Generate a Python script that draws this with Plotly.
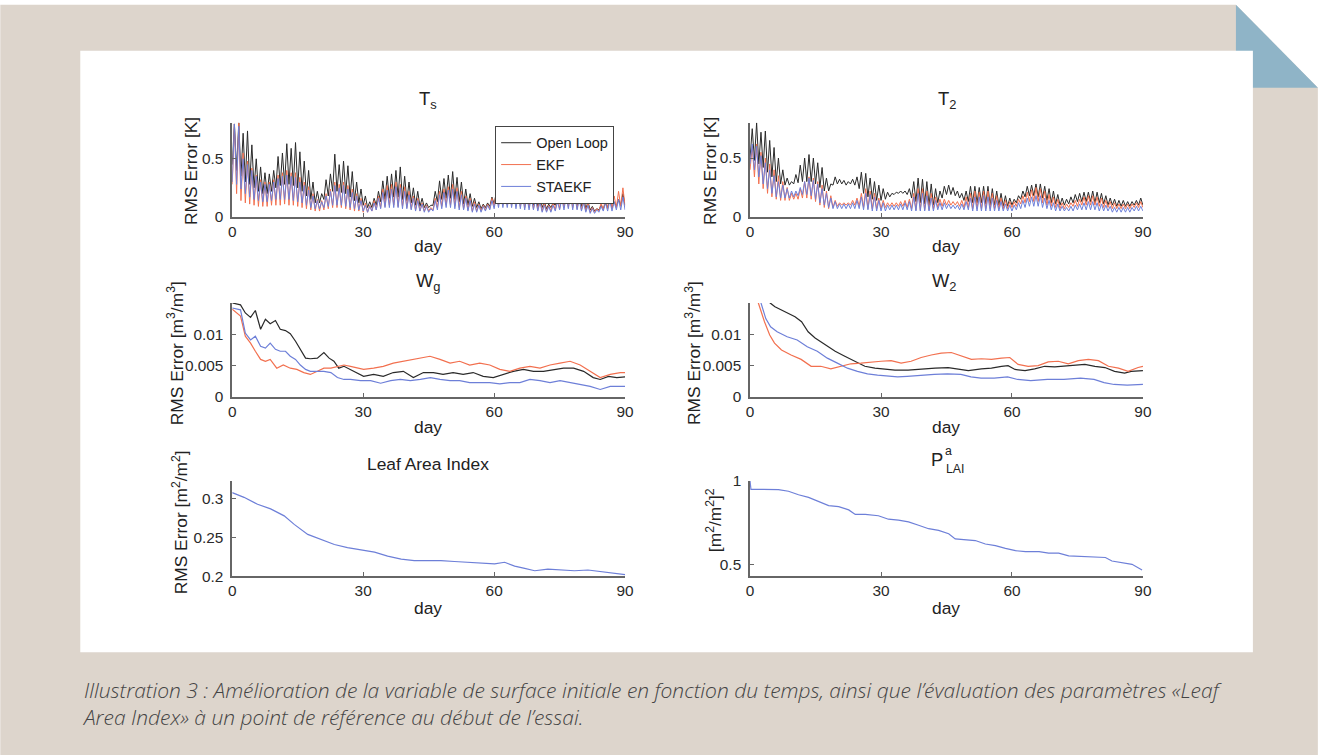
import plotly.graph_objects as go

# The photographed page shows the figure origin at about (3.7, 8.3) px with a slight
# shrink (0.9906 x, 0.977 y); layout positions below are given in reference-picture pixels
# and converted through that measured mapping.
OX, OY = 3.7, 8.3
SX, SY = 0.9906, 0.977
W, H = 1338, 766

# ---------------- data ----------------
DAYS = list(range(90))

# Ts : daily peak / trough RMS error [K]
OL_TS_PEAK = [0.80, 0.81, 0.72, 0.74, 0.62, 0.50, 0.43, 0.38, 0.37, 0.40,
              0.52, 0.55, 0.63, 0.59, 0.64, 0.56, 0.48, 0.40, 0.30, 0.22,
              0.20, 0.32, 0.37, 0.54, 0.45, 0.48, 0.44, 0.39, 0.30, 0.24,
              0.18, 0.13, 0.16, 0.22, 0.31, 0.35, 0.37, 0.40, 0.43, 0.35,
              0.30, 0.25, 0.22, 0.16, 0.12, 0.10, 0.22, 0.31, 0.33, 0.36,
              0.39, 0.34, 0.30, 0.24, 0.20, 0.16, 0.13, 0.11, 0.12, 0.17,
              0.21, 0.26, 0.28, 0.27, 0.30, 0.27, 0.25, 0.23, 0.22, 0.20,
              0.17, 0.13, 0.11, 0.12, 0.18, 0.22, 0.24, 0.26, 0.24, 0.20,
              0.17, 0.13, 0.09, 0.07, 0.10, 0.12, 0.15, 0.13, 0.15, 0.20]
OL_TS_TROUGH = [0.45, 0.40, 0.35, 0.30, 0.28, 0.25, 0.22, 0.20, 0.20, 0.22,
                0.25, 0.27, 0.28, 0.28, 0.27, 0.25, 0.22, 0.18, 0.15, 0.12,
                0.12, 0.15, 0.18, 0.22, 0.22, 0.21, 0.20, 0.17, 0.14, 0.12,
                0.10, 0.08, 0.08, 0.10, 0.13, 0.15, 0.16, 0.17, 0.17, 0.15,
                0.14, 0.12, 0.10, 0.09, 0.08, 0.08, 0.10, 0.13, 0.15, 0.16,
                0.16, 0.15, 0.13, 0.11, 0.10, 0.09, 0.08, 0.07, 0.08, 0.09,
                0.11, 0.13, 0.14, 0.14, 0.14, 0.13, 0.12, 0.11, 0.10, 0.10,
                0.09, 0.08, 0.07, 0.08, 0.10, 0.11, 0.12, 0.12, 0.11, 0.10,
                0.09, 0.07, 0.06, 0.05, 0.06, 0.07, 0.08, 0.08, 0.09, 0.10]
EKF_TS_PEAK = [0.80, 0.81, 0.55, 0.48, 0.42, 0.36, 0.32, 0.30, 0.30, 0.32,
               0.36, 0.38, 0.40, 0.38, 0.38, 0.34, 0.30, 0.26, 0.20, 0.15,
               0.14, 0.20, 0.24, 0.30, 0.28, 0.30, 0.27, 0.24, 0.20, 0.16,
               0.12, 0.10, 0.14, 0.18, 0.24, 0.27, 0.28, 0.30, 0.28, 0.26,
               0.22, 0.18, 0.16, 0.12, 0.10, 0.08, 0.16, 0.22, 0.24, 0.26,
               0.28, 0.25, 0.22, 0.18, 0.16, 0.13, 0.11, 0.10, 0.11, 0.16,
               0.22, 0.24, 0.25, 0.24, 0.25, 0.24, 0.22, 0.21, 0.20, 0.18,
               0.15, 0.12, 0.10, 0.12, 0.16, 0.20, 0.22, 0.23, 0.22, 0.18,
               0.15, 0.12, 0.08, 0.07, 0.12, 0.16, 0.20, 0.18, 0.22, 0.25]
EKF_TS_TROUGH = [0.28, 0.20, 0.14, 0.12, 0.11, 0.10, 0.09, 0.09, 0.09, 0.10,
                 0.10, 0.10, 0.11, 0.10, 0.10, 0.09, 0.08, 0.07, 0.06, 0.05,
                 0.05, 0.06, 0.07, 0.08, 0.08, 0.08, 0.07, 0.06, 0.05, 0.05,
                 0.04, 0.04, 0.05, 0.06, 0.08, 0.09, 0.10, 0.10, 0.09, 0.09,
                 0.08, 0.07, 0.06, 0.05, 0.05, 0.05, 0.06, 0.08, 0.09, 0.10,
                 0.10, 0.09, 0.08, 0.07, 0.06, 0.05, 0.05, 0.05, 0.06, 0.07,
                 0.09, 0.10, 0.10, 0.10, 0.10, 0.09, 0.09, 0.08, 0.08, 0.07,
                 0.06, 0.05, 0.05, 0.05, 0.06, 0.07, 0.08, 0.08, 0.08, 0.07,
                 0.06, 0.05, 0.04, 0.04, 0.05, 0.06, 0.07, 0.07, 0.08, 0.09]
STA_TS_PEAK = [0.80, 0.78, 0.50, 0.45, 0.40, 0.35, 0.30, 0.28, 0.28, 0.30,
               0.33, 0.35, 0.36, 0.35, 0.34, 0.30, 0.27, 0.23, 0.18, 0.14,
               0.13, 0.18, 0.22, 0.27, 0.25, 0.27, 0.24, 0.21, 0.18, 0.14,
               0.10, 0.09, 0.12, 0.16, 0.21, 0.23, 0.24, 0.26, 0.25, 0.22,
               0.19, 0.16, 0.14, 0.11, 0.09, 0.07, 0.14, 0.19, 0.21, 0.23,
               0.24, 0.22, 0.19, 0.16, 0.14, 0.11, 0.10, 0.09, 0.10, 0.14,
               0.18, 0.20, 0.21, 0.20, 0.21, 0.20, 0.19, 0.18, 0.17, 0.15,
               0.13, 0.10, 0.09, 0.10, 0.13, 0.16, 0.18, 0.19, 0.18, 0.15,
               0.12, 0.10, 0.07, 0.06, 0.09, 0.12, 0.14, 0.13, 0.15, 0.17]
STA_TS_TROUGH = [0.30, 0.28, 0.24, 0.20, 0.17, 0.15, 0.14, 0.13, 0.13, 0.14,
                 0.15, 0.15, 0.15, 0.15, 0.14, 0.13, 0.12, 0.10, 0.08, 0.07,
                 0.07, 0.08, 0.09, 0.10, 0.10, 0.10, 0.09, 0.08, 0.07, 0.06,
                 0.05, 0.04, 0.05, 0.06, 0.07, 0.08, 0.08, 0.08, 0.08, 0.07,
                 0.07, 0.06, 0.05, 0.05, 0.04, 0.04, 0.05, 0.06, 0.07, 0.08,
                 0.08, 0.07, 0.06, 0.06, 0.05, 0.04, 0.04, 0.04, 0.05, 0.06,
                 0.07, 0.08, 0.08, 0.08, 0.08, 0.07, 0.07, 0.06, 0.06, 0.06,
                 0.05, 0.04, 0.04, 0.04, 0.05, 0.06, 0.06, 0.07, 0.06, 0.06,
                 0.05, 0.04, 0.03, 0.03, 0.04, 0.05, 0.05, 0.05, 0.06, 0.06]

# T2 : daily peak / trough RMS error [K]
OL_T2_PEAK = [0.75, 0.80, 0.72, 0.73, 0.65, 0.59, 0.50, 0.40, 0.33, 0.30,
              0.36, 0.44, 0.50, 0.53, 0.50, 0.46, 0.42, 0.33, 0.28, 0.34,
              0.32, 0.31, 0.30, 0.32, 0.34, 0.38, 0.37, 0.33, 0.30, 0.27,
              0.24, 0.21, 0.20, 0.21, 0.22, 0.22, 0.24, 0.30, 0.33, 0.32,
              0.30, 0.28, 0.24, 0.22, 0.26, 0.27, 0.25, 0.22, 0.20, 0.22,
              0.26, 0.26, 0.25, 0.26, 0.26, 0.24, 0.22, 0.20, 0.18, 0.16,
              0.15, 0.18, 0.22, 0.26, 0.27, 0.28, 0.28, 0.26, 0.24, 0.22,
              0.19, 0.16, 0.15, 0.17, 0.19, 0.20, 0.21, 0.21, 0.22, 0.21,
              0.20, 0.18, 0.16, 0.15, 0.14, 0.14, 0.13, 0.13, 0.14, 0.16]
OL_T2_TROUGH = [0.50, 0.48, 0.45, 0.42, 0.38, 0.34, 0.30, 0.28, 0.27, 0.27,
                0.28, 0.29, 0.30, 0.30, 0.30, 0.28, 0.25, 0.22, 0.22, 0.27,
                0.28, 0.28, 0.27, 0.28, 0.27, 0.24, 0.20, 0.17, 0.15, 0.14,
                0.14, 0.15, 0.17, 0.19, 0.20, 0.20, 0.19, 0.16, 0.13, 0.12,
                0.11, 0.10, 0.10, 0.12, 0.16, 0.19, 0.19, 0.18, 0.16, 0.14,
                0.13, 0.12, 0.12, 0.12, 0.11, 0.10, 0.10, 0.10, 0.09, 0.09,
                0.10, 0.12, 0.15, 0.17, 0.18, 0.18, 0.17, 0.16, 0.14, 0.12,
                0.11, 0.10, 0.10, 0.11, 0.12, 0.13, 0.13, 0.13, 0.13, 0.12,
                0.12, 0.11, 0.10, 0.10, 0.09, 0.09, 0.09, 0.09, 0.10, 0.10]
EKF_T2_PEAK = [0.60, 0.62, 0.55, 0.50, 0.45, 0.40, 0.35, 0.30, 0.25, 0.20,
               0.20, 0.24, 0.30, 0.34, 0.33, 0.30, 0.27, 0.22, 0.18, 0.14,
               0.12, 0.12, 0.12, 0.14, 0.16, 0.20, 0.24, 0.22, 0.20, 0.16,
               0.14, 0.12, 0.12, 0.12, 0.13, 0.14, 0.15, 0.20, 0.24, 0.24,
               0.22, 0.20, 0.17, 0.15, 0.15, 0.14, 0.13, 0.13, 0.14, 0.17,
               0.20, 0.22, 0.21, 0.22, 0.22, 0.20, 0.18, 0.16, 0.14, 0.13,
               0.13, 0.15, 0.18, 0.21, 0.23, 0.25, 0.24, 0.22, 0.19, 0.17,
               0.15, 0.12, 0.11, 0.12, 0.14, 0.15, 0.17, 0.18, 0.18, 0.17,
               0.16, 0.14, 0.13, 0.12, 0.11, 0.11, 0.11, 0.11, 0.12, 0.13]
EKF_T2_TROUGH = [0.40, 0.34, 0.28, 0.24, 0.20, 0.17, 0.15, 0.14, 0.14, 0.14,
                 0.15, 0.15, 0.16, 0.16, 0.15, 0.13, 0.10, 0.08, 0.07, 0.08,
                 0.09, 0.10, 0.10, 0.10, 0.10, 0.09, 0.08, 0.07, 0.07, 0.07,
                 0.07, 0.08, 0.09, 0.09, 0.09, 0.09, 0.08, 0.07, 0.06, 0.06,
                 0.06, 0.06, 0.07, 0.08, 0.09, 0.10, 0.10, 0.10, 0.09, 0.08,
                 0.08, 0.07, 0.07, 0.07, 0.07, 0.07, 0.07, 0.07, 0.07, 0.07,
                 0.08, 0.09, 0.11, 0.12, 0.13, 0.13, 0.13, 0.12, 0.10, 0.09,
                 0.08, 0.07, 0.07, 0.08, 0.09, 0.09, 0.10, 0.10, 0.10, 0.10,
                 0.09, 0.08, 0.08, 0.07, 0.07, 0.07, 0.07, 0.07, 0.08, 0.08]
STA_T2_PEAK = [0.62, 0.60, 0.52, 0.46, 0.40, 0.35, 0.30, 0.27, 0.24, 0.22,
               0.22, 0.25, 0.30, 0.33, 0.31, 0.28, 0.24, 0.20, 0.16, 0.13,
               0.11, 0.11, 0.11, 0.12, 0.14, 0.17, 0.20, 0.19, 0.17, 0.14,
               0.12, 0.10, 0.10, 0.10, 0.11, 0.12, 0.13, 0.17, 0.20, 0.20,
               0.18, 0.16, 0.14, 0.12, 0.12, 0.11, 0.10, 0.10, 0.11, 0.13,
               0.16, 0.17, 0.17, 0.18, 0.17, 0.16, 0.14, 0.13, 0.11, 0.10,
               0.10, 0.12, 0.14, 0.16, 0.17, 0.18, 0.18, 0.16, 0.14, 0.12,
               0.11, 0.09, 0.08, 0.09, 0.10, 0.11, 0.12, 0.13, 0.13, 0.12,
               0.11, 0.10, 0.09, 0.08, 0.08, 0.08, 0.08, 0.08, 0.09, 0.09]
STA_T2_TROUGH = [0.45, 0.40, 0.34, 0.28, 0.24, 0.20, 0.17, 0.16, 0.16, 0.16,
                 0.17, 0.18, 0.19, 0.19, 0.18, 0.15, 0.12, 0.10, 0.08, 0.07,
                 0.07, 0.07, 0.07, 0.07, 0.07, 0.07, 0.06, 0.06, 0.05, 0.05,
                 0.05, 0.05, 0.06, 0.06, 0.06, 0.06, 0.06, 0.05, 0.05, 0.05,
                 0.05, 0.05, 0.05, 0.06, 0.06, 0.07, 0.07, 0.07, 0.06, 0.06,
                 0.06, 0.05, 0.05, 0.05, 0.05, 0.05, 0.05, 0.05, 0.05, 0.05,
                 0.05, 0.06, 0.07, 0.08, 0.09, 0.09, 0.09, 0.08, 0.07, 0.06,
                 0.05, 0.05, 0.05, 0.05, 0.05, 0.06, 0.06, 0.06, 0.06, 0.06,
                 0.05, 0.05, 0.05, 0.04, 0.04, 0.04, 0.04, 0.04, 0.05, 0.05]

# Wg : RMS error [m3/m3]
OL_WG_DAY = [0, 1.9, 3, 4.2, 5.3, 6.5, 7.6, 8.7, 9.9, 11, 12.2, 13.3, 14.5, 15.6, 16.8, 17.9, 19.5, 21,
             22.2, 23.3, 24.4, 25.6, 27.1, 28.6, 30.1, 32.4, 34.6, 36.9, 39.2, 41.5, 43.8, 46.1, 48.3,
             50.6, 52.9, 55.2, 57.5, 59.8, 62.1, 64.4, 66.7, 69, 71.3, 73.6, 75.9, 78.2, 80.5, 82.7,
             84.3, 86.2, 88.1, 90]
OL_WG = [0.0150, 0.0147, 0.0134, 0.0127, 0.0138, 0.0108, 0.0124, 0.0117, 0.0122, 0.0108,
         0.0106, 0.0101, 0.0089, 0.0076, 0.0062, 0.0061, 0.0062, 0.0071, 0.0062, 0.0057,
         0.0046, 0.0049, 0.0044, 0.0039, 0.0033, 0.0036, 0.0033, 0.0039, 0.0041, 0.0031,
         0.0039, 0.0039, 0.0036, 0.0039, 0.0036, 0.0039, 0.0033, 0.0031, 0.0036, 0.0041,
         0.0044, 0.0041, 0.0041, 0.0044, 0.0046, 0.0046, 0.0041, 0.0031, 0.0028, 0.0033,
         0.0031, 0.0032]
EKF_WG_DAY = [0, 1.9, 3, 4.2, 5.3, 6.5, 7.6, 8.7, 10.2, 11.7, 13.3, 14.8, 16.4, 17.9, 19.5, 21, 22.6,
              24.1, 25.6, 27.1, 28.6, 30.1, 32.4, 34.6, 36.9, 39.2, 41.5, 43.8, 45.3, 47.6, 49.9,
              52.1, 54.4, 56.7, 59, 61.3, 63.6, 65.9, 68.2, 70.5, 72.8, 75.1, 77.4, 79.7, 82, 84.3,
              86.6, 88.9, 90]
EKF_WG = [0.0140, 0.0129, 0.0097, 0.0086, 0.0073, 0.0060, 0.0057, 0.0060, 0.0046, 0.0051,
          0.0046, 0.0044, 0.0039, 0.0036, 0.0041, 0.0046, 0.0046, 0.0049, 0.0051, 0.0049,
          0.0046, 0.0044, 0.0046, 0.0049, 0.0054, 0.0057, 0.0060, 0.0062, 0.0065, 0.0060,
          0.0054, 0.0057, 0.0051, 0.0054, 0.0051, 0.0044, 0.0041, 0.0046, 0.0049, 0.0046,
          0.0051, 0.0054, 0.0057, 0.0051, 0.0041, 0.0031, 0.0036, 0.0039, 0.0039]
STA_WG_DAY = [0, 1.9, 3, 4.2, 5.3, 6.5, 7.6, 8.7, 9.9, 11, 12.2, 13.3, 14.5, 15.6, 16.8, 17.9, 19.5,
              21, 22.6, 24.1, 25.6, 27.1, 29.4, 31.7, 34, 36.3, 38.5, 40.8, 43.1, 45.4, 47.6, 49.9,
              52.1, 54.4, 56.7, 59, 61.3, 63.6, 65.9, 68.2, 70.5, 72.8, 75.1, 77.4, 79.7, 82, 84.3,
              86.6, 88.9, 90]
STA_WG = [0.0142, 0.0139, 0.0102, 0.0091, 0.0097, 0.0081, 0.0078, 0.0086, 0.0076, 0.0073,
          0.0073, 0.0065, 0.0060, 0.0051, 0.0044, 0.0041, 0.0041, 0.0041, 0.0039, 0.0031,
          0.0028, 0.0028, 0.0026, 0.0026, 0.0022, 0.0026, 0.0028, 0.0026, 0.0028, 0.0031,
          0.0028, 0.0026, 0.0026, 0.0023, 0.0023, 0.0023, 0.0021, 0.0023, 0.0023, 0.0028,
          0.0026, 0.0023, 0.0026, 0.0023, 0.0021, 0.0017, 0.0012, 0.0017, 0.0017, 0.0017]

# W2 : RMS error [m3/m3]
OL_W2_DAY = [3.5, 4.6, 5.7, 8, 10.3, 11.8, 13.3, 14.9, 17.2, 19.5, 21.7, 24, 26.3, 28.6, 30.9, 33.2,
             36.2, 39.3, 42.4, 45.4, 47.7, 50, 53, 55.3, 57.6, 59.1, 60.7, 63, 65.2, 67.5, 69.8,
             72.1, 74.4, 76.7, 79, 81.3, 83.5, 85.8, 87.3, 88.8, 90]
OL_W2 = [0.0158, 0.0150, 0.0144, 0.0136, 0.0128, 0.0120, 0.0104, 0.0094, 0.0083, 0.0073, 0.0065,
         0.0057, 0.0049, 0.0046, 0.0045, 0.0043, 0.0043, 0.0045, 0.0046, 0.0047, 0.0044,
         0.0042, 0.0045, 0.0046, 0.0049, 0.0050, 0.0044, 0.0042, 0.0045, 0.0049, 0.0048,
         0.0049, 0.0050, 0.0052, 0.0049, 0.0047, 0.0041, 0.0038, 0.0041, 0.0042, 0.0042]
EKF_W2_DAY = [1.2, 1.9, 3.3, 4.5, 5.6, 7.2, 9.4, 11.7, 14, 16.2, 18.5, 20.8, 23.1, 25.4, 27.7, 30,
              32.3, 34.6, 36.9, 39.2, 41.5, 43.8, 46.1, 48.4, 50.7, 53, 55.3, 57.6, 59.5, 61.4,
              63.7, 66, 68.3, 70.6, 72.9, 75.2, 77.5, 79.8, 82.1, 84.4, 86.6, 88.9, 90]
EKF_W2 = [0.0158, 0.0150, 0.0120, 0.0099, 0.0086, 0.0075, 0.0067, 0.0060, 0.0049, 0.0049,
          0.0045, 0.0049, 0.0053, 0.0054, 0.0056, 0.0057, 0.0058, 0.0054, 0.0057, 0.0063,
          0.0067, 0.0070, 0.0071, 0.0065, 0.0060, 0.0061, 0.0060, 0.0062, 0.0063, 0.0052,
          0.0049, 0.0050, 0.0056, 0.0057, 0.0053, 0.0058, 0.0060, 0.0058, 0.0049, 0.0046,
          0.0041, 0.0047, 0.0049]
STA_W2_DAY = [1.8, 2.5, 3.6, 4.7, 6.2, 8.5, 10.8, 13.1, 15.4, 17.7, 20, 22.3, 24.6, 26.9, 29.2,
              31.5, 33.8, 36, 39.1, 42.2, 45.2, 48.3, 50.6, 52.9, 55.9, 59, 61.3, 64.3, 68.1,
              71.9, 75.7, 78.8, 81.1, 83.4, 86.4, 90]
STA_W2 = [0.0160, 0.0150, 0.0125, 0.0112, 0.0104, 0.0096, 0.0091, 0.0080, 0.0073, 0.0062,
          0.0054, 0.0046, 0.0041, 0.0037, 0.0035, 0.0033, 0.0032, 0.0033, 0.0035, 0.0036,
          0.0037, 0.0036, 0.0032, 0.0030, 0.0030, 0.0032, 0.0028, 0.0026, 0.0028, 0.0028,
          0.0030, 0.0028, 0.0023, 0.0020, 0.0019, 0.0020]

# Leaf Area Index : RMS error [m2/m2]
LAI_DAY = [0, 2.7, 5.8, 8.8, 11.9, 14.2, 17.3, 20.3, 23.4, 26.4, 29.5, 32.6, 35.6, 38.7, 41.7,
           44.8, 47.8, 50.9, 54, 57, 60.1, 62.4, 64.7, 67, 69.3, 72.3, 75.4, 78.4, 81.5, 84.5,
           87.6, 90]
LAI_RMS = [0.308, 0.302, 0.293, 0.287, 0.278, 0.267, 0.254, 0.248, 0.241, 0.237, 0.234, 0.231,
           0.226, 0.222, 0.220, 0.220, 0.220, 0.219, 0.218, 0.217, 0.216, 0.218, 0.213, 0.210,
           0.207, 0.209, 0.208, 0.207, 0.208, 0.206, 0.204, 0.202]

# P^a_LAI : [(m2/m2)^2]
PA_DAY = [0, 0.2, 3, 6.5, 8.8, 11.1, 13.4, 15.7, 18, 20.3, 22.6, 24.1, 26.4, 29.4, 31.7, 34, 36.3,
          38.6, 40.9, 43.2, 45.5, 47, 49.3, 51.6, 53.9, 56.2, 58.5, 60.8, 63.1, 66.2, 68.4, 70.7,
          73, 75.3, 78.4, 81.4, 82.9, 85.2, 87.5, 89.8]
PA_LAI = [1.0, 0.95, 0.95, 0.949, 0.939, 0.918, 0.902, 0.878, 0.853, 0.847, 0.827, 0.800, 0.800,
          0.792, 0.771, 0.765, 0.755, 0.735, 0.714, 0.704, 0.684, 0.653, 0.650, 0.643, 0.622,
          0.612, 0.596, 0.582, 0.576, 0.576, 0.567, 0.567, 0.551, 0.548, 0.547, 0.541, 0.520,
          0.510, 0.500, 0.466]

X_TICKS = [0, 30, 60, 90]
SERIES = ["Open Loop", "EKF", "STAEKF"]
COLORS = {"Open Loop": "#2a2a2a", "EKF": "#f2704f", "STAEKF": "#6d7fd8"}


# ---------------- helpers (picture pixel -> paper fraction) ----------------
def px(x):
    return ((x - OX) / SX) / W


def py(y):
    return 1 - ((y - OY) / SY) / H


def fs(size):
    return round(size / SY, 1)


def diurnal(trough, peak):
    xs, ys = [], []
    for d, t, p in zip(DAYS, trough, peak):
        xs += [d, d + 0.5]
        ys += [t, p]
    xs.append(90)
    ys.append(trough[-1])
    return xs, ys


fig = go.Figure()

# Ts
for name, tr, pk in [("Open Loop", OL_TS_TROUGH, OL_TS_PEAK),
                     ("EKF", EKF_TS_TROUGH, EKF_TS_PEAK),
                     ("STAEKF", STA_TS_TROUGH, STA_TS_PEAK)]:
    xs, ys = diurnal(tr, pk)
    fig.add_trace(go.Scatter(x=xs, y=ys, mode="lines", name=name, showlegend=True,
                             line=dict(color=COLORS[name], width=1), xaxis="x", yaxis="y"))
# T2
for name, tr, pk in [("Open Loop", OL_T2_TROUGH, OL_T2_PEAK),
                     ("EKF", EKF_T2_TROUGH, EKF_T2_PEAK),
                     ("STAEKF", STA_T2_TROUGH, STA_T2_PEAK)]:
    xs, ys = diurnal(tr, pk)
    fig.add_trace(go.Scatter(x=xs, y=ys, mode="lines", name=name, showlegend=False,
                             line=dict(color=COLORS[name], width=1), xaxis="x2", yaxis="y2"))
# Wg
for name, dx, vy in [("Open Loop", OL_WG_DAY, OL_WG), ("EKF", EKF_WG_DAY, EKF_WG),
                     ("STAEKF", STA_WG_DAY, STA_WG)]:
    fig.add_trace(go.Scatter(x=dx, y=vy, mode="lines", name=name, showlegend=False,
                             line=dict(color=COLORS[name], width=1.2), xaxis="x3", yaxis="y3"))
# W2
for name, dx, vy in [("Open Loop", OL_W2_DAY, OL_W2), ("EKF", EKF_W2_DAY, EKF_W2),
                     ("STAEKF", STA_W2_DAY, STA_W2)]:
    fig.add_trace(go.Scatter(x=dx, y=vy, mode="lines", name=name, showlegend=False,
                             line=dict(color=COLORS[name], width=1.2), xaxis="x4", yaxis="y4"))
# LAI
fig.add_trace(go.Scatter(x=LAI_DAY, y=LAI_RMS, mode="lines", showlegend=False,
                         line=dict(color=COLORS["STAEKF"], width=1.2), xaxis="x5", yaxis="y5"))
# P
fig.add_trace(go.Scatter(x=PA_DAY, y=PA_LAI, mode="lines", showlegend=False,
                         line=dict(color=COLORS["STAEKF"], width=1.2), xaxis="x6", yaxis="y6"))

AX_COL = "#666666"
TICK_FONT = dict(family="Liberation Sans, Arial, sans-serif", size=fs(15), color="#2a2a2a")


def xax(x0, x1, anchor):
    return dict(domain=[px(x0), px(x1)], range=[0, 90], tickvals=X_TICKS, anchor=anchor,
                showline=True, linecolor=AX_COL, linewidth=1.5, mirror=False, showgrid=False,
                zeroline=False, ticks="inside", ticklen=4, tickcolor=AX_COL, tickfont=TICK_FONT)


def yax(y0, y1, rng, tickvals, ticktext, anchor):
    return dict(domain=[py(y1), py(y0)], range=rng, tickvals=tickvals, ticktext=ticktext,
                anchor=anchor, showline=True, linecolor=AX_COL, linewidth=1.5, mirror=False,
                showgrid=False, zeroline=False, ticks="inside", ticklen=4, tickcolor=AX_COL,
                tickfont=TICK_FONT, ticklabelstandoff=4)


L0, L1 = 232, 625
R0, R1 = 750, 1143

fig.update_layout(
    width=W, height=H,
    margin=dict(l=0, r=0, t=0, b=0),
    paper_bgcolor="white", plot_bgcolor="rgba(0,0,0,0)",
    xaxis=xax(L0, L1, "y"), yaxis=yax(122, 216, [0, 0.81], [0, 0.5], ["0", "0.5"], "x"),
    xaxis2=xax(R0, R1, "y2"), yaxis2=yax(122, 216, [0, 0.8], [0, 0.5], ["0", "0.5"], "x2"),
    xaxis3=xax(L0, L1, "y3"),
    yaxis3=yax(302, 396, [0, 0.015], [0, 0.005, 0.01], ["0", "0.005", "0.01"], "x3"),
    xaxis4=xax(R0, R1, "y4"),
    yaxis4=yax(302, 396, [0, 0.015], [0, 0.005, 0.01], ["0", "0.005", "0.01"], "x4"),
    xaxis5=xax(L0, L1, "y5"),
    yaxis5=yax(480, 575, [0.2, 0.323], [0.2, 0.25, 0.3], ["0.2", "0.25", "0.3"], "x5"),
    xaxis6=xax(R0, R1, "y6"),
    yaxis6=yax(480, 575, [0.429, 1.0], [0.5, 1], ["0.5", "1"], "x6"),
    legend=dict(x=px(495), y=py(125), xanchor="left", yanchor="top",
                bgcolor="white", bordercolor="#444444", borderwidth=1,
                font=dict(family="Liberation Sans, Arial, sans-serif", size=14.5, color="#222222"),
                tracegroupgap=0, itemwidth=30),
)

# background card shapes
shapes = [
    dict(type="path", xref="paper", yref="paper",
         path=f"M{px(0)},{py(4)} L{px(1236)},{py(4)} L{px(1318)},{py(87)} L{px(1318)},{py(770)} L{px(0)},{py(770)} Z",
         fillcolor="#ddd5cc", line=dict(width=0), layer="below"),
    dict(type="path", xref="paper", yref="paper",
         path=f"M{px(1236)},{py(4)} L{px(1236)},{py(87)} L{px(1318)},{py(87)} Z",
         fillcolor="#8fb4c7", line=dict(width=0), layer="below"),
    dict(type="rect", xref="paper", yref="paper", x0=px(80), x1=px(1253), y0=py(651), y1=py(50),
         fillcolor="white", line=dict(width=0), layer="below"),
]
fig.update_layout(shapes=shapes)

LBL = dict(family="Liberation Sans, Arial, sans-serif", size=fs(17), color="#222222")
TITLE = dict(family="Liberation Sans, Arial, sans-serif", size=fs(18), color="#222222")
LBL_SMALL = dict(family="Liberation Sans, Arial, sans-serif", size=fs(12), color="#222222")


def ann(text, x, y, font=LBL, angle=0):
    fig.add_annotation(text=text, x=px(x), y=py(y), xref="paper", yref="paper",
                       showarrow=False, xanchor="center", yanchor="middle",
                       textangle=angle, font=font)


# panel titles
ann("T<sub>s</sub>", 428, 99, TITLE)
ann("T<sub>2</sub>", 947, 99, TITLE)
ann("W<sub>g</sub>", 428, 281, TITLE)
ann("W<sub>2</sub>", 945, 281, TITLE)
ann("Leaf Area Index", 428, 463)
ann("P", 937, 458, TITLE)
ann("a", 949, 450, LBL_SMALL)
ann("LAI", 955, 468, LBL_SMALL)

# x-axis titles
for cx in (428, 946):
    ann("day", cx, 245)
    ann("day", cx, 426)
    ann("day", cx, 607)

# y-axis titles
ann("RMS Error [K]", 191, 170, angle=-90)
ann("RMS Error [K]", 710, 170, angle=-90)
ann("RMS Error [m<sup>3</sup>/m<sup>3</sup>]", 175, 352, angle=-90)
ann("RMS Error [m<sup>3</sup>/m<sup>3</sup>]", 693, 352, angle=-90)
ann("RMS Error [m<sup>2</sup>/m<sup>2</sup>]", 180, 521, angle=-90)
ann("[m<sup>2</sup>/m<sup>2</sup>]<sup>2</sup>", 714, 519, angle=-90)

# caption
CAPTION = ("Illustration 3 : Amélioration de la variable de surface initiale en fonction du temps, "
           "ainsi que l’évaluation des paramètres «Leaf<br>"
           "Area Index» à un point de référence au début de l’essai.")
fig.add_annotation(text=CAPTION, x=px(80), y=py(702), xref="paper", yref="paper",
                   showarrow=False, xanchor="left", yanchor="middle", align="left",
                   font=dict(family="Open Sans, Liberation Sans, sans-serif", size=21,
                             color="#444444", style="italic", weight=300))

fig.write_html("out.html")
